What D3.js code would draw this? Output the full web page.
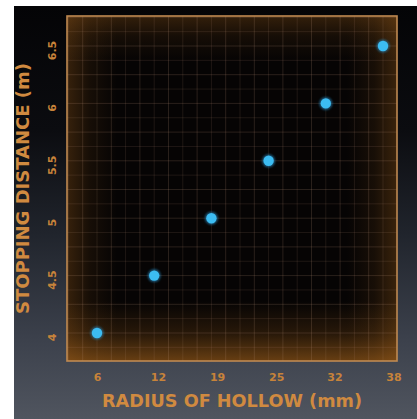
<!DOCTYPE html>
<html><head><meta charset="utf-8">
<script src="https://cdn.jsdelivr.net/npm/d3@7"></script>
<style>html,body{margin:0;padding:0;background:#fff;}svg{display:block;}</style>
</head><body>
<script>
const radius = [6, 12, 18, 24, 30, 36];
const stopping = [4, 4.5, 5, 5.5, 6, 6.5];
const xTickValues = [6, 12.4, 18.6, 24.8, 30.9, 37.1];
const xTickLabels = ["6", "12", "19", "25", "32", "38"];
const yTickValues = [4, 4.5, 5, 5.5, 6, 6.5];
const yTickLabels = ["4", "4.5", "5", "5.5", "6", "6.5"];
const xTitle = "RADIUS OF HOLLOW (mm)";
const yTitle = "STOPPING DISTANCE (m)";

const W = 417, H = 419;
const plot = {l: 67, t: 16, r: 397, b: 361};
const svg = d3.select("body").append("svg").attr("width", W).attr("height", H);
const defs = svg.append("defs");

const pxX = (383 - 97) / 30;
const x = d3.scaleLinear().domain([6 - (97 - plot.l) / pxX, 6 + (plot.r - 97) / pxX]).range([plot.l, plot.r]);
const pxY = (333 - 46) / 2.5;
const y = d3.scaleLinear().domain([4 - (plot.b - 333) / pxY, 4 + (333 - plot.t) / pxY]).range([plot.b, plot.t]);

// background gradient
const bg = defs.append("linearGradient").attr("id", "bg").attr("x1", 0).attr("y1", 0).attr("x2", 0).attr("y2", 1);
[[0, "#040406"], [0.3, "#0b0c10"], [0.55, "#20242c"], [0.8, "#3b404b"], [1, "#50555f"]]
  .forEach(([o, c]) => bg.append("stop").attr("offset", o).attr("stop-color", c));
svg.append("rect").attr("x", 14).attr("y", 6).attr("width", W - 14).attr("height", H - 6).attr("fill", "url(#bg)");

// plot interior
svg.append("rect").attr("x", plot.l).attr("y", plot.t).attr("width", plot.r - plot.l).attr("height", plot.b - plot.t).attr("fill", "#060404");

function edgeGrad(id, x1, y1, x2, y2, op) {
  const g = defs.append("linearGradient").attr("id", id).attr("x1", x1).attr("y1", y1).attr("x2", x2).attr("y2", y2);
  g.append("stop").attr("offset", 0).attr("stop-color", "#a8651c").attr("stop-opacity", op);
  g.append("stop").attr("offset", 0.45).attr("stop-color", "#a8651c").attr("stop-opacity", op * 0.35);
  g.append("stop").attr("offset", 1).attr("stop-color", "#a8651c").attr("stop-opacity", 0);
}
edgeGrad("gl", 0, 0, 1, 0, 0.3);
edgeGrad("gr", 1, 0, 0, 0, 0.32);
edgeGrad("gt", 0, 0, 0, 1, 0.28);
edgeGrad("gb", 0, 1, 0, 0, 0.6);
const pw = plot.r - plot.l, ph = plot.b - plot.t;
svg.append("rect").attr("x", plot.l).attr("y", plot.t).attr("width", 50).attr("height", ph).attr("fill", "url(#gl)");
svg.append("rect").attr("x", plot.r - 50).attr("y", plot.t).attr("width", 50).attr("height", ph).attr("fill", "url(#gr)");
svg.append("rect").attr("x", plot.l).attr("y", plot.t).attr("width", pw).attr("height", 45).attr("fill", "url(#gt)");
svg.append("rect").attr("x", plot.l).attr("y", plot.b - 60).attr("width", pw).attr("height", 60).attr("fill", "url(#gb)");

// grid
const gx = [], gy = [];
for (let v = 6 - 1.5 * 3; v <= x.domain()[1]; v += 1.5) if (v > x.domain()[0]) gx.push(v);
for (let v = 4 - 0.125 * 3; v <= y.domain()[1]; v += 0.125) if (v > y.domain()[0]) gy.push(v);
const grid = svg.append("g");
grid.selectAll(".vx").data(gx).join("line")
  .attr("x1", d => x(d)).attr("x2", d => x(d)).attr("y1", plot.t).attr("y2", plot.b)
  .attr("stroke", "#b89078").attr("stroke-opacity", (d, i) => i % 2 ? 0.2 : 0.14).attr("stroke-width", 1);
grid.selectAll(".hy").data(gy).join("line")
  .attr("y1", d => y(d)).attr("y2", d => y(d)).attr("x1", plot.l).attr("x2", plot.r)
  .attr("stroke", "#b89078").attr("stroke-opacity", (d, i) => i % 2 ? 0.2 : 0.14).attr("stroke-width", 1);

// border
svg.append("rect").attr("x", plot.l).attr("y", plot.t).attr("width", pw).attr("height", ph)
  .attr("fill", "none").attr("stroke", "#c08a52").attr("stroke-width", 1.6);

// points
const glow = defs.append("filter").attr("id", "glow").attr("x", "-1").attr("y", "-1").attr("width", 3).attr("height", 3);
glow.append("feGaussianBlur").attr("stdDeviation", 1.2);
const pts = radius.map((r, i) => ({x: r, y: stopping[i]}));
svg.append("g").selectAll("circle").data(pts).join("circle")
  .attr("cx", d => x(d.x)).attr("cy", d => y(d.y)).attr("r", 6.5)
  .attr("fill", "#2a8fc8").attr("opacity", 0.6).attr("filter", "url(#glow)");
svg.append("g").selectAll("circle").data(pts).join("circle")
  .attr("cx", d => x(d.x)).attr("cy", d => y(d.y)).attr("r", 5.2)
  .attr("fill", "#3cbcf2");

const font = "'DejaVu Sans', sans-serif";
const orange = "#d08a40";

// x axis
const xAxis = d3.axisBottom(x).tickValues(xTickValues).tickSize(0).tickPadding(0)
  .tickFormat((d, i) => xTickLabels[i]);
const gX = svg.append("g").attr("transform", `translate(0,${plot.b})`).call(xAxis);
gX.select(".domain").remove();
gX.selectAll("text").attr("y", 12).attr("dy", "0.71em").attr("fill", "#c7833a")
  .attr("font-family", font).attr("font-size", 11).attr("font-weight", "bold");

// y axis
const yAxis = d3.axisLeft(y).tickValues(yTickValues).tickSize(0).tickPadding(0)
  .tickFormat((d, i) => yTickLabels[i]);
const gY = svg.append("g").attr("transform", `translate(${plot.l},0)`).call(yAxis);
gY.select(".domain").remove();
gY.selectAll("text").attr("x", null).attr("dy", null)
  .attr("transform", "translate(-11,4) rotate(-90)")
  .attr("text-anchor", "middle").attr("fill", "#c7833a")
  .attr("font-family", font).attr("font-size", 11).attr("font-weight", "bold");

// titles
svg.append("text").attr("x", (plot.l + plot.r) / 2).attr("y", 407)
  .attr("text-anchor", "middle").attr("fill", orange)
  .attr("font-family", font).attr("font-size", 18).attr("font-weight", 600)
  .attr("textLength", 260).attr("lengthAdjust", "spacingAndGlyphs").text(xTitle);
svg.append("text").attr("transform", `translate(29,${(plot.t + plot.b) / 2}) rotate(-90)`)
  .attr("text-anchor", "middle").attr("fill", orange)
  .attr("font-family", font).attr("font-size", 17).attr("font-weight", 600)
  .attr("textLength", 251).attr("lengthAdjust", "spacingAndGlyphs").text(yTitle);
</script>
</body></html>
